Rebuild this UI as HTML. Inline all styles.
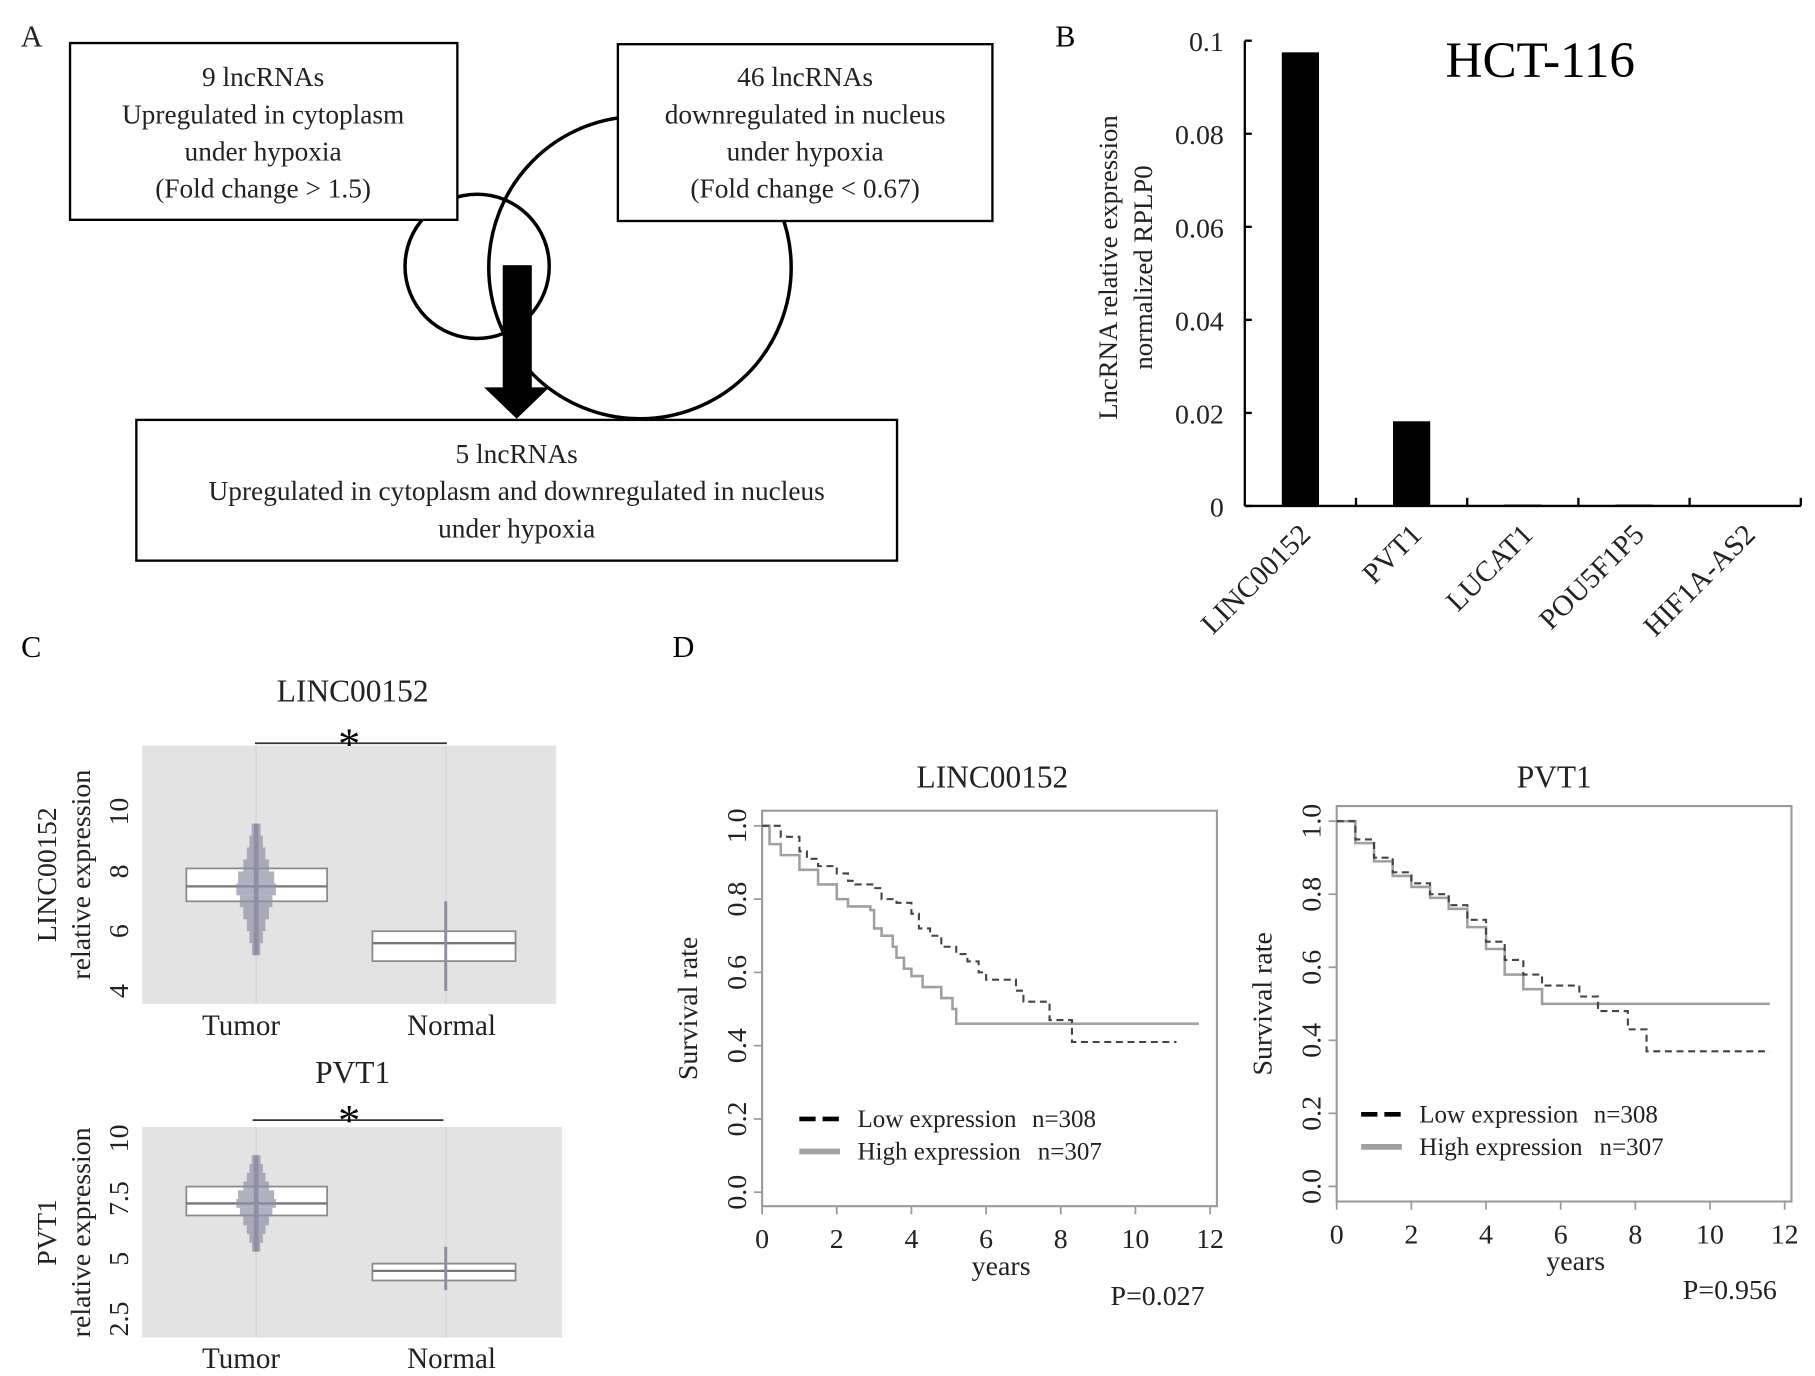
<!DOCTYPE html>
<html><head><meta charset="utf-8"><style>
html,body{margin:0;padding:0;background:#fff}
svg{display:block;font-family:"Liberation Serif",serif}
</style></head><body>
<svg id="fig" width="1815" height="1376" viewBox="0 0 1560 1183" xmlns="http://www.w3.org/2000/svg">
<g font-size="23.5" text-anchor="middle" fill="#222">
  <text x="27" y="40" font-size="26">A</text>
  <circle cx="410" cy="229" r="62" fill="none" stroke="#000" stroke-width="3"/>
  <circle cx="550" cy="230" r="130" fill="none" stroke="#000" stroke-width="3"/>
  <rect x="60" y="37" width="333" height="152" fill="#fff" stroke="#000" stroke-width="2"/>
  <text x="226" y="74"><tspan x="226">9 lncRNAs</tspan><tspan x="226" dy="32">Upregulated in cytoplasm</tspan><tspan x="226" dy="32">under hypoxia</tspan><tspan x="226" dy="32">(Fold change &gt; 1.5)</tspan></text>
  <rect x="531" y="38" width="322" height="152" fill="#fff" stroke="#000" stroke-width="2"/>
  <text x="692" y="74"><tspan x="692">46 lncRNAs</tspan><tspan x="692" dy="32">downregulated in nucleus</tspan><tspan x="692" dy="32">under hypoxia</tspan><tspan x="692" dy="32">(Fold change &lt; 0.67)</tspan></text>
  <rect x="432" y="228" width="25" height="106" fill="#000"/>
  <polygon points="416,333 472,333 444,360" fill="#000"/>
  <rect x="117" y="361" width="654" height="121" fill="#fff" stroke="#000" stroke-width="2"/>
  <text x="444" y="398"><tspan x="444">5 lncRNAs</tspan><tspan x="444" dy="32">Upregulated in cytoplasm and downregulated in nucleus</tspan><tspan x="444" dy="32">under hypoxia</tspan></text>
</g>
<g id="pb">
  <text x="907" y="40" font-size="26">B</text>
  <text x="1324" y="66" font-size="44" text-anchor="middle">HCT-116</text>
  <text transform="translate(960,230) rotate(-90)" font-size="23" text-anchor="middle" fill="#222"><tspan x="0">LncRNA relative expression</tspan><tspan x="0" dy="30">normalized RPLP0</tspan></text>
</g>
<g id="pc">
  <text x="18" y="565" font-size="26">C</text>
</g>
<g id="pd">
  <text x="578" y="565" font-size="26">D</text>
</g>
</svg>
<script>
// ---------- Panel B data ----------
const bCategories = ["LINC00152","PVT1","LUCAT1","POU5F1P5","HIF1A-AS2"];
const bValues = [0.0975, 0.0182, 0.0003, 0.0003, 0.0];
const bTicks = [0, 0.02, 0.04, 0.06, 0.08, 0.1];
const bTickLabels = ["0","0.02","0.04","0.06","0.08","0.1"];

// ---------- Panel C data ----------
const cGroups = ["Tumor","Normal"];
const linTicks = [4,6,8,10];
const linBoxes = [[7.0,7.5,8.1],[5.0,5.6,6.0]];      // q1, median, q3
const linRanges = [[5.2,9.6],[4.0,7.0]];
const pvtTicks = [2.5,5,7.5,10];
const pvtTickLabels = ["2.5","5","7.5","10"];
const pvtBoxes = [[6.8,7.3,8.0],[4.1,4.5,4.8]];
const pvtRanges = [[5.3,9.3],[3.7,5.5]];
const tumorDensity = [0.1,0.25,0.4,0.6,0.8,1,0.9,0.6,0.4,0.25,0.12]; // relative spread

// ---------- Panel D data ----------
const kmTicksX = [0,2,4,6,8,10,12];
const kmTicksY = [0,0.2,0.4,0.6,0.8,1.0];
const kmTickLabelsY = ["0.0","0.2","0.4","0.6","0.8","1.0"];
const linLowT = [0,0.5,1,1.2,1.5,2,2.3,2.5,3,3.2,3.6,4,4.2,4.5,4.8,5.2,5.5,5.8,6,6.8,7,7.7,8.3,11.1];
const linLowS = [1,0.97,0.93,0.91,0.89,0.87,0.85,0.84,0.83,0.80,0.79,0.76,0.72,0.70,0.67,0.65,0.63,0.60,0.58,0.55,0.52,0.47,0.41,0.41];
const linHighT = [0,0.2,0.5,1,1.5,2,2.3,2.9,3,3.2,3.5,3.6,3.8,4,4.3,4.8,5.1,5.2,11.7];
const linHighS = [1,0.95,0.92,0.88,0.84,0.80,0.78,0.77,0.72,0.70,0.67,0.64,0.61,0.59,0.56,0.53,0.50,0.46,0.46];
const pvtLowT = [0,0.5,1,1.5,2,2.5,3,3.5,4,4.5,5,5.5,6.5,7,7.8,8.3,11.6];
const pvtLowS = [1,0.95,0.9,0.86,0.83,0.80,0.77,0.73,0.67,0.62,0.58,0.55,0.52,0.48,0.43,0.37,0.37];
const pvtHighT = [0,0.5,1,1.5,2,2.5,3,3.5,4,4.5,5,5.5,11.6];
const pvtHighS = [1,0.94,0.89,0.85,0.82,0.79,0.76,0.71,0.65,0.58,0.54,0.50,0.50];

const NS="http://www.w3.org/2000/svg";
function mk(parent,tag,attrs,text){const e=document.createElementNS(NS,tag);for(const k in attrs)e.setAttribute(k,attrs[k]);if(text!==undefined)e.textContent=text;parent.appendChild(e);return e;}

// ---------- Panel B ----------
(function(){
  const g=document.getElementById('pb');
  const x0=1070,x1=1548,y0=435,yTop=35;
  const yS=v=>y0-(v/0.1)*(y0-yTop);
  const bw=(x1-x0)/bCategories.length;
  const xc=i=>x0+bw*(i+0.5);
  let e=mk(g,'line',{x1:x0,y1:yTop,x2:x0,y2:y0,stroke:'#000','stroke-width':2});
  
  
  e=mk(g,'line',{x1:x0,y1:y0,x2:x1,y2:y0,stroke:'#000','stroke-width':2});
  
  
  bTicks.forEach((v,i)=>{
    mk(g,'line',{x1:x0,y1:yS(v),x2:x0+6,y2:yS(v),stroke:'#000','stroke-width':2});
    const t=mk(g,'text',{x:x0-18,y:yS(v)+9,'font-size':24,'text-anchor':'end',fill:'#222'},bTickLabels[i]);
    
    
  });
  for(let i=1;i<=bCategories.length;i++){mk(g,'line',{x1:x0+bw*i,y1:y0,x2:x0+bw*i,y2:y0-7,stroke:'#000','stroke-width':2});}
  bCategories.forEach((c,i)=>{
    const r=mk(g,'rect',{x:xc(i)-16,y:yS(bValues[i]),width:32,height:Math.max(y0-yS(bValues[i]),0.8),fill:'#000'});
    
    
    const t=mk(g,'text',{transform:`translate(${xc(i)+10},${y0+26}) rotate(-45)`,'font-size':25,'text-anchor':'end',fill:'#222'},c);
    
    
  });
})();

// ---------- Panel C ----------
function boxPlot(g,cfg){
  const {gx0,gx1,gy0,gy1,yMap,ticks,labels,boxes,ranges,title,titleY,sigY,sigX0,sigX1,ytitle,catY,name}=cfg;
  let e=mk(g,'rect',{x:gx0,y:gy0,width:gx1-gx0,height:gy1-gy0,fill:'#e3e3e3'});
  
  
  const xs=[220,383], bx=[[160,281],[320,443]];
  xs.forEach(x=>mk(g,'line',{x1:x,y1:gy0,x2:x,y2:gy1,stroke:'#d8d8d8','stroke-width':1.5}));
  e=mk(g,'text',{x:303,y:titleY,'font-size':27,'text-anchor':'middle',fill:'#222'},title);
  
  
  e=mk(g,'line',{x1:sigX0,y1:sigY,x2:sigX1,y2:sigY,stroke:'#333','stroke-width':1.5});
  
  
  e=mk(g,'text',{x:300,y:sigY+13,'font-size':38,'text-anchor':'middle',fill:'#000'},'*');
  
  
  ticks.forEach((v,i)=>{
    const t=mk(g,'text',{transform:`translate(110,${yMap(v)}) rotate(-90)`,'font-size':24,'text-anchor':'middle',fill:'#222'},labels[i]);
    
    
  });
  e=mk(g,'text',{transform:`translate(48,${(gy0+gy1)/2}) rotate(-90)`,'font-size':24,'text-anchor':'middle',fill:'#222'});
  
  
  mk(e,'tspan',{x:0,y:0},ytitle);mk(e,'tspan',{x:0,dy:29},'relative expression');
  boxes.forEach((b,i)=>{
    const r=mk(g,'rect',{x:bx[i][0],y:yMap(b[2]),width:bx[i][1]-bx[i][0],height:yMap(b[0])-yMap(b[2]),fill:'#fff',stroke:'#8a8a8a','stroke-width':1.5});
    
    
    mk(g,'line',{x1:bx[i][0],y1:yMap(b[1]),x2:bx[i][1],y2:yMap(b[1]),stroke:'#777','stroke-width':2});
    const rg=ranges[i];
    mk(g,'line',{x1:xs[i],y1:yMap(rg[0]),x2:xs[i],y2:yMap(rg[1]),stroke:'#8d8da0','stroke-width':i===0?4:2.5});
    if(i===0){
      const n=tumorDensity.length;
      tumorDensity.forEach((d,k)=>{
        const v=rg[0]+(rg[1]-rg[0])*(k+0.5)/n;
        const hh=(yMap(rg[0])-yMap(rg[1]))/n;
        const w=4+d*30;
        const p=mk(g,'rect',{x:xs[i]-w/2,y:yMap(v)-hh/2,width:w,height:hh,fill:'#8f8fa6',opacity:0.7});
        
        
      });
    }
    const t=mk(g,'text',{x:[207,388][i],y:catY,'font-size':25,'text-anchor':'middle',fill:'#222'},cGroups[i]);
    
    
  });
}
(function(){
  const g=document.getElementById('pc');
  boxPlot(g,{gx0:122,gx1:478,gy0:641,gy1:863,yMap:v=>852-(v-4)*25.7,ticks:linTicks,labels:linTicks.map(String),
    boxes:linBoxes,ranges:linRanges,title:'LINC00152',titleY:603,sigY:639,sigX0:219,sigX1:384,ytitle:'LINC00152',catY:890,name:'linc00152'});
  boxPlot(g,{gx0:122,gx1:483,gy0:969,gy1:1150,yMap:v=>1134-(v-2.5)*20.7,ticks:pvtTicks,labels:pvtTickLabels,
    boxes:pvtBoxes,ranges:pvtRanges,title:'PVT1',titleY:931,sigY:963,sigX0:217,sigX1:381,ytitle:'PVT1',catY:1176,name:'pvt1'});
})();

// ---------- Panel D ----------
function km(g,cfg){
  const {px0,px1,py0,py1,ox,oy0,oy1,title,tx,lowT,lowS,highT,highS,legX,legY,pText,pX,pY,name}=cfg;
  const X=t=>ox+t*(px1-ox)/12*0.985;
  const Y=s=>oy0-(oy0-oy1)*s;
  let e=mk(g,'rect',{x:px0,y:py0,width:px1-px0,height:py1-py0,fill:'none',stroke:'#9a9a9a','stroke-width':1.8});
  
  
  e=mk(g,'text',{x:tx,y:677,'font-size':27,'text-anchor':'middle',fill:'#222'},title);
  
  
  kmTicksX.forEach(v=>{
    mk(g,'line',{x1:X(v),y1:py1,x2:X(v),y2:py1+7,stroke:'#9a9a9a','stroke-width':1.5});
    const t=mk(g,'text',{x:X(v),y:py1+36,'font-size':24,'text-anchor':'middle',fill:'#222'},String(v));
    
    
  });
  kmTicksY.forEach((v,i)=>{
    mk(g,'line',{x1:px0,y1:Y(v),x2:px0-7,y2:Y(v),stroke:'#9a9a9a','stroke-width':1.5});
    const t=mk(g,'text',{transform:`translate(${px0-14},${Y(v)}) rotate(-90)`,'font-size':24,'text-anchor':'middle',fill:'#222'},kmTickLabelsY[i]);
    
    
  });
  e=mk(g,'text',{x:(px0+px1)/2+10,y:py1+59,'font-size':24,'text-anchor':'middle',fill:'#222'},'years');
  
  
  e=mk(g,'text',{transform:`translate(${px0-56},${(py0+py1)/2}) rotate(-90)`,'font-size':24,'text-anchor':'middle',fill:'#222'},'Survival rate');
  
  
  function step(T,S){let d=`M${X(T[0])},${Y(S[0])}`;for(let i=1;i<T.length;i++){d+=` H${X(T[i])} V${Y(S[i])}`;}return d;}
  e=mk(g,'path',{d:step(highT,highS),fill:'none',stroke:'#a0a0a0','stroke-width':2.2});
  
  
  e=mk(g,'path',{d:step(lowT,lowS),fill:'none',stroke:'#444','stroke-width':1.8,'stroke-dasharray':'6,4'});
  
  
  e=mk(g,'line',{x1:legX,y1:legY,x2:legX+35,y2:legY,stroke:'#000','stroke-width':4,'stroke-dasharray':'14,6'});
  
  
  e=mk(g,'text',{x:legX+50,y:legY+7,'font-size':21.5,fill:'#222'},'Low expression');
  
  
  e=mk(g,'text',{x:legX+200,y:legY+7,'font-size':21.5,fill:'#222'},'n=308');
  
  
  e=mk(g,'line',{x1:legX,y1:legY+28,x2:legX+35,y2:legY+28,stroke:'#a0a0a0','stroke-width':5});
  
  
  e=mk(g,'text',{x:legX+50,y:legY+35,'font-size':21.5,fill:'#222'},'High expression');
  
  
  e=mk(g,'text',{x:legX+205,y:legY+35,'font-size':21.5,fill:'#222'},'n=307');
  
  
  e=mk(g,'text',{x:pX,y:pY,'font-size':24,'text-anchor':'middle',fill:'#222'},pText);
  
  
}
(function(){
  const g=document.getElementById('pd');
  km(g,{px0:655,px1:1046,py0:697,py1:1037,ox:655,oy0:1025,oy1:710,title:'LINC00152',tx:853,
    lowT:linLowT,lowS:linLowS,highT:linHighT,highS:linHighS,legX:687,legY:962,pText:'P=0.027',pX:995,pY:1122,name:'linc00152-km'});
  km(g,{px0:1149,px1:1540,py0:693,py1:1033,ox:1149,oy0:1020,oy1:706,title:'PVT1',tx:1336,
    lowT:pvtLowT,lowS:pvtLowS,highT:pvtHighT,highS:pvtHighS,legX:1170,legY:958,pText:'P=0.956',pX:1487,pY:1117,name:'pvt1-km'});
})();
</script>
</body></html>
